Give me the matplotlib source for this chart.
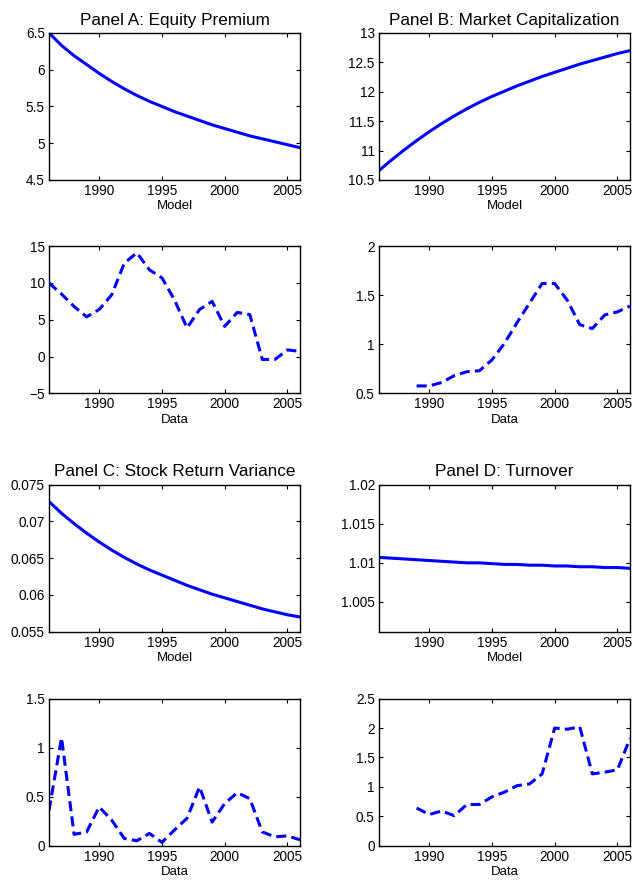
import matplotlib
matplotlib.use("Agg")
import matplotlib.pyplot as plt
from matplotlib.ticker import FuncFormatter

plt.rcParams['font.family'] = ['Liberation Sans', 'DejaVu Sans']

years = list(range(1986, 2007))
years_short = list(range(1989, 2007))

# model paths (yearly)
eq_model = [6.50, 6.33, 6.19, 6.07, 5.95, 5.84, 5.74, 5.65, 5.57, 5.50, 5.43,
            5.37, 5.31, 5.25, 5.20, 5.15, 5.10, 5.06, 5.02, 4.98, 4.94]
mcap_model = [10.66, 10.84, 11.01, 11.17, 11.32, 11.46, 11.59, 11.71, 11.82, 11.92,
              12.01, 12.10, 12.18, 12.26, 12.33, 12.40, 12.47, 12.53, 12.59, 12.65, 12.70]
var_model = [0.0727, 0.0711, 0.0697, 0.0684, 0.0672, 0.0661, 0.0651, 0.0642, 0.0634,
             0.0627, 0.0620, 0.0613, 0.0607, 0.0601, 0.0596, 0.0591, 0.0586, 0.0581,
             0.0577, 0.0573, 0.0570]
turn_model = [1.0107, 1.0106, 1.0105, 1.0104, 1.0103, 1.0102, 1.0101, 1.0100, 1.0100,
              1.0099, 1.0098, 1.0098, 1.0097, 1.0097, 1.0096, 1.0096, 1.0095, 1.0095,
              1.0094, 1.0094, 1.0093]

# observed series
eq_data = [10.0, 8.5, 6.8, 5.4, 6.4, 8.4, 12.7, 14.1, 11.8, 10.7, 7.7, 3.9, 6.4,
           7.5, 4.1, 6.0, 5.7, -0.4, -0.4, 0.9, 0.7]
mcap_data = [0.575, 0.575, 0.61, 0.68, 0.72, 0.73, 0.84, 1.01, 1.22, 1.42, 1.62,
             1.62, 1.45, 1.20, 1.16, 1.30, 1.33, 1.39]
var_data = [0.36, 1.10, 0.115, 0.14, 0.395, 0.26, 0.074, 0.05, 0.125, 0.034, 0.16,
            0.28, 0.60, 0.24, 0.43, 0.54, 0.48, 0.14, 0.09, 0.10, 0.06]
turn_data = [0.64, 0.53, 0.59, 0.51, 0.70, 0.70, 0.83, 0.91, 1.02, 1.05, 1.22, 2.00,
             1.98, 2.02, 1.22, 1.25, 1.29, 1.82]

xticks = [1990, 1995, 2000, 2005]

fig = plt.figure(figsize=(6.33, 8.81), dpi=100)

W = 0.3965
H = 0.1669
lefts = [0.0774, 0.5987]
bottoms = [0.7957, 0.5536, 0.2830, 0.0401]

fmt = FuncFormatter(lambda v, p: ('%g' % round(v, 6)).replace('-', '\u2212'))


def panel(col, row, x, y, ylim, yticks, xlabel, title=None, dashed=False):
    ax = fig.add_axes([lefts[col], bottoms[row], W, H])
    if dashed:
        ax.plot(x, y, color='#0000ff', lw=2.2, dashes=(3.3, 1.7))
    else:
        ax.plot(x, y, color='#0000ff', lw=2.2)
    ax.set_xlim(1986, 2006)
    ax.set_ylim(*ylim)
    ax.set_xticks(xticks)
    ax.set_yticks(yticks)
    ax.yaxis.set_major_formatter(fmt)
    ax.tick_params(direction='in', length=3, width=0.8, labelsize=9.8,
                   top=True, right=True, pad=3)
    for s in ax.spines.values():
        s.set_linewidth(1.0)
    ax.set_xlabel(xlabel, fontsize=9.5, labelpad=1.5)
    if title:
        ax.set_title(title, fontsize=12.3, pad=6)
    return ax


panel(0, 0, years, eq_model, (4.5, 6.5), [4.5, 5, 5.5, 6, 6.5], 'Model',
      'Panel A: Equity Premium')
panel(1, 0, years, mcap_model, (10.5, 13), [10.5, 11, 11.5, 12, 12.5, 13], 'Model',
      'Panel B: Market Capitalization')
panel(0, 1, years, eq_data, (-5, 15), [-5, 0, 5, 10, 15], 'Data', dashed=True)
panel(1, 1, years_short, mcap_data, (0.5, 2), [0.5, 1, 1.5, 2], 'Data', dashed=True)
panel(0, 2, years, var_model, (0.055, 0.075),
      [0.055, 0.06, 0.065, 0.07, 0.075], 'Model', 'Panel C: Stock Return Variance')
panel(1, 2, years, turn_model, (1.0012, 1.02), [1.005, 1.01, 1.015, 1.02], 'Model',
      'Panel D: Turnover')
panel(0, 3, years, var_data, (0, 1.5), [0, 0.5, 1, 1.5], 'Data', dashed=True)
panel(1, 3, years_short, turn_data, (0, 2.5), [0, 0.5, 1, 1.5, 2, 2.5], 'Data',
      dashed=True)

fig.savefig('out.png', dpi=100)
